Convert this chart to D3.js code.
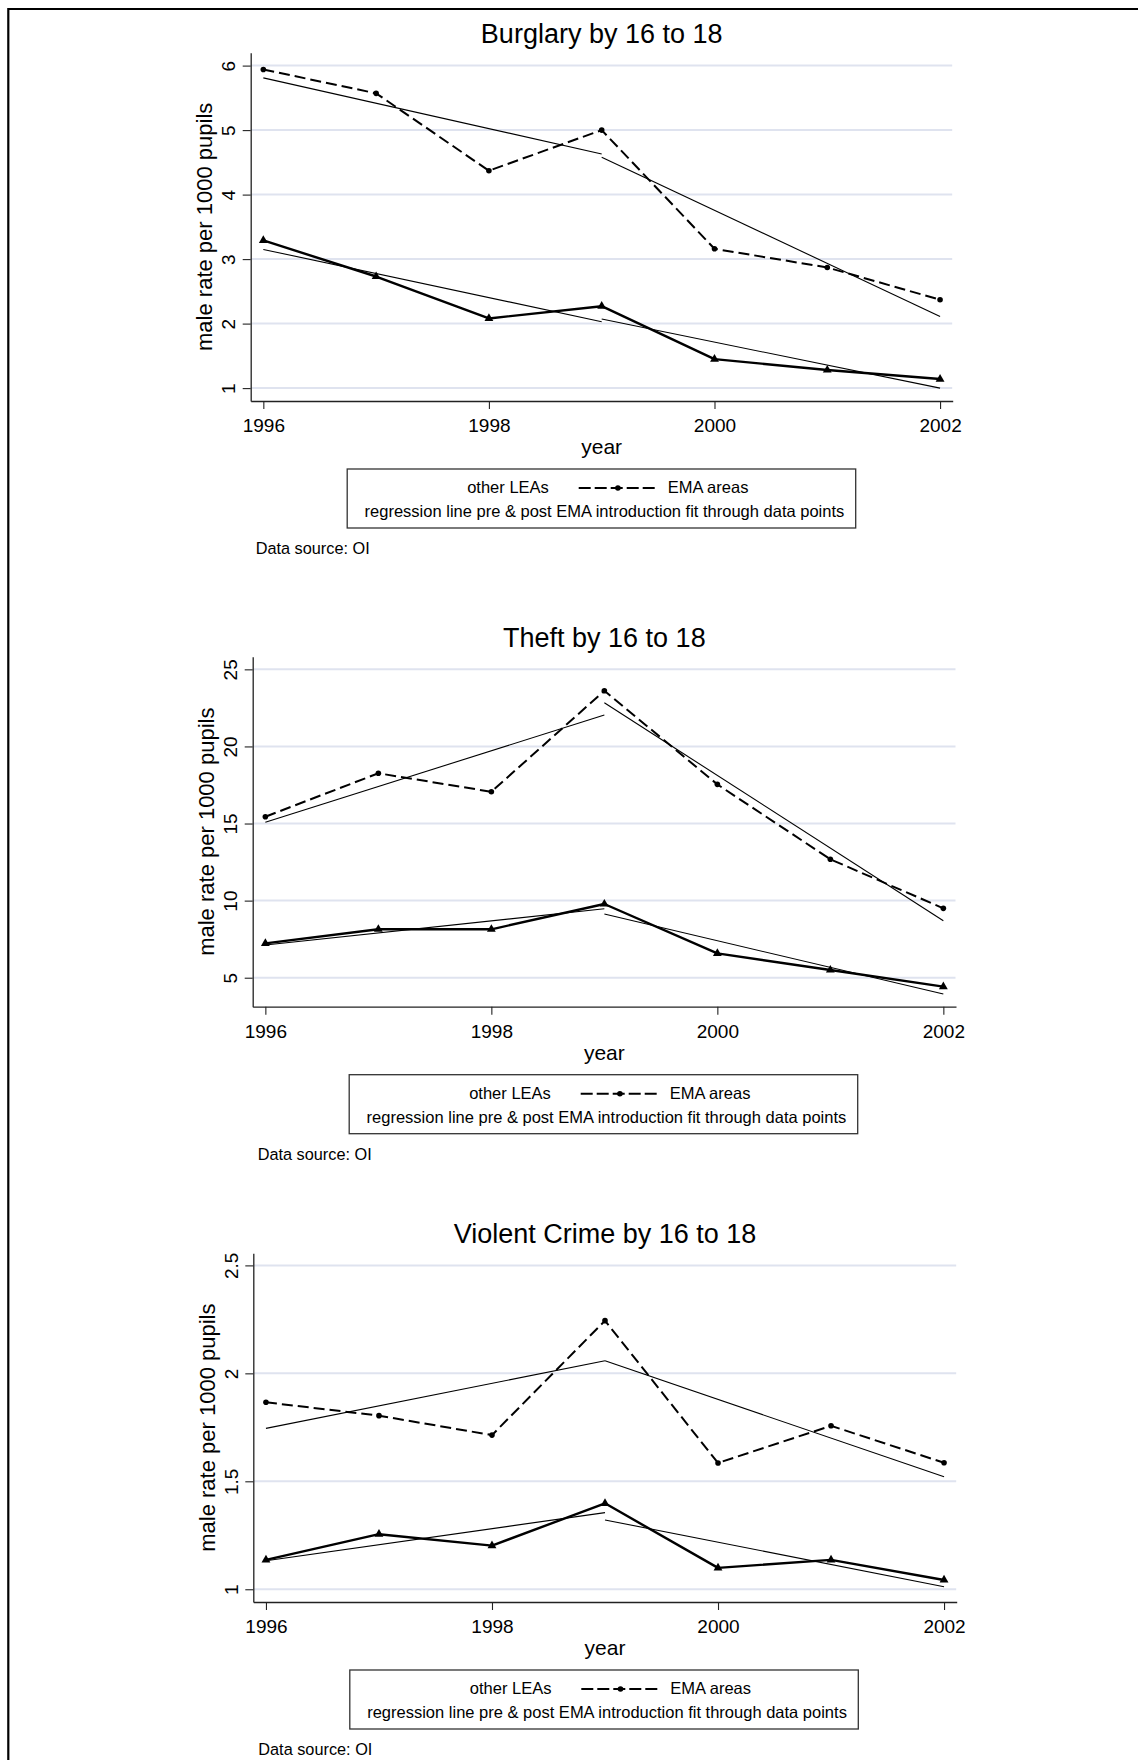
<!DOCTYPE html>
<html>
<head>
<meta charset="utf-8">
<script src="https://cdn.jsdelivr.net/npm/d3@7/dist/d3.min.js"></script>
<style>
  html, body { margin: 0; padding: 0; background: #fff; }
  svg { display: block; }
  text { font-family: "Liberation Sans", Arial, Helvetica, sans-serif; fill: #000; }
</style>
</head>
<body>
<script>
// ---------------- DATA ----------------
const years = [1996, 1997, 1998, 1999, 2000, 2001, 2002];
const xTickYears = [1996, 1998, 2000, 2002];
const fitPreYears = [1996, 1999];
const fitPostYears = [1999, 2002];

const titles = ["Burglary by 16 to 18", "Theft by 16 to 18", "Violent Crime by 16 to 18"];
const yTitle = "male rate per 1000 pupils";
const xTitle = "year";
const legendOther = "other LEAs";
const legendEMA = "EMA areas";
const legendFit = "regression line pre & post EMA introduction fit through data points";
const sourceNote = "Data source: OI";

// Burglary
const burglaryEMA   = [5.94, 5.57, 4.37, 5.00, 3.16, 2.87, 2.37];
const burglaryOther = [3.29, 2.73, 2.08, 2.27, 1.45, 1.28, 1.14];
const burglaryFitEMAPre    = [5.81, 4.63];
const burglaryFitEMAPost   = [4.58, 2.11];
const burglaryFitOtherPre  = [3.15, 2.03];
const burglaryFitOtherPost = [2.07, 1.00];
const burglaryTicks = [1, 2, 3, 4, 5, 6];

// Theft
const theftEMA   = [15.44, 18.26, 17.06, 23.61, 17.54, 12.68, 9.50];
const theftOther = [7.23, 8.14, 8.14, 9.78, 6.58, 5.50, 4.42];
const theftFitEMAPre    = [15.08, 22.04];
const theftFitEMAPost   = [22.83, 8.70];
const theftFitOtherPre  = [7.12, 9.47];
const theftFitOtherPost = [9.13, 3.94];
const theftTicks = [5, 10, 15, 20, 25];

// Violent crime
const violentEMA   = [1.866, 1.804, 1.714, 2.244, 1.585, 1.757, 1.586];
const violentOther = [1.136, 1.255, 1.202, 1.398, 1.099, 1.136, 1.043];
const violentFitEMAPre    = [1.745, 2.058];
const violentFitEMAPost   = [2.058, 1.521];
const violentFitOtherPre  = [1.132, 1.355];
const violentFitOtherPost = [1.321, 1.012];
const violentTicks = [1, 1.5, 2, 2.5];

// ---------------- LAYOUT ----------------
const W = 1138, H = 1760;
const xDomain = [1995.888, 2002.112];
const layout = [
  { left: 250.7, right: 952.7, top: 52.7,   bottom: 401,    yDomain: [0.8, 6.2] },
  { left: 252.7, right: 956,   top: 656.7,  bottom: 1006.7, yDomain: [3.12, 25.82] },
  { left: 253.3, right: 956.7, top: 1253.3, bottom: 1602,   yDomain: [0.941, 2.556] }
];
const panelData = [
  { ema: burglaryEMA, other: burglaryOther, fits: [burglaryFitEMAPre, burglaryFitEMAPost, burglaryFitOtherPre, burglaryFitOtherPost], ticks: burglaryTicks },
  { ema: theftEMA, other: theftOther, fits: [theftFitEMAPre, theftFitEMAPost, theftFitOtherPre, theftFitOtherPost], ticks: theftTicks },
  { ema: violentEMA, other: violentOther, fits: [violentFitEMAPre, violentFitEMAPost, violentFitOtherPre, violentFitOtherPost], ticks: violentTicks }
];

const svg = d3.select("body").append("svg").attr("width", W).attr("height", H);
svg.append("rect").attr("width", W).attr("height", H).attr("fill", "#fff");

// page border (left and top)
svg.append("path").attr("d", `M8.3,${H} L8.3,9 L${W},9`)
  .attr("fill", "none").attr("stroke", "#000").attr("stroke-width", 2.2);

const AXIS = "#222";
const GRID = "#dfe3ef";

layout.forEach((L, i) => {
  const D = panelData[i];
  const g = svg.append("g");
  const x = d3.scaleLinear().domain(xDomain).range([L.left, L.right]);
  const y = d3.scaleLinear().domain(L.yDomain).range([L.bottom, L.top]);
  const cx = (L.left + L.right) / 2;

  // gridlines
  g.append("g").selectAll("line").data(D.ticks).join("line")
    .attr("x1", L.left).attr("x2", L.right - 0.5)
    .attr("y1", d => y(d)).attr("y2", d => y(d))
    .attr("stroke", GRID).attr("stroke-width", 2);

  // title
  g.append("text").attr("x", cx).attr("y", L.top - 10)
    .attr("text-anchor", "middle").attr("font-size", 27).text(titles[i]);

  // y axis
  const yAxis = g.append("g").attr("transform", `translate(${L.left},0)`)
    .call(d3.axisLeft(y).tickValues(D.ticks).tickSize(8).tickSizeOuter(0)
      .tickFormat(d3.format("~g")));
  yAxis.select(".domain").attr("stroke", AXIS).attr("stroke-width", 1.3);
  yAxis.selectAll(".tick line").attr("stroke", AXIS).attr("stroke-width", 1.1);
  yAxis.selectAll(".tick text")
    .attr("transform", "rotate(-90)")
    .attr("x", 0).attr("y", -15.5).attr("dy", null)
    .attr("text-anchor", "middle")
    .attr("font-size", 19).attr("font-family", "Liberation Sans, Arial, sans-serif")
    .attr("fill", "#000");

  // x axis
  const xAxis = g.append("g").attr("transform", `translate(0,${L.bottom})`)
    .call(d3.axisBottom(x).tickValues(xTickYears).tickSize(8).tickSizeOuter(0)
      .tickFormat(d3.format("d")));
  xAxis.select(".domain").attr("stroke", AXIS).attr("stroke-width", 1.3);
  xAxis.selectAll(".tick line").attr("stroke", AXIS).attr("stroke-width", 1.1);
  xAxis.selectAll(".tick text")
    .attr("y", 31).attr("dy", null)
    .attr("font-size", 19).attr("font-family", "Liberation Sans, Arial, sans-serif")
    .attr("fill", "#000");

  // axis titles
  g.append("text")
    .attr("transform", `translate(${L.left - 38.5},${(L.top + L.bottom) / 2}) rotate(-90)`)
    .attr("text-anchor", "middle").attr("font-size", 22).text(yTitle);
  g.append("text").attr("x", cx).attr("y", L.bottom + 53)
    .attr("text-anchor", "middle").attr("font-size", 21).text(xTitle);

  // regression lines
  const fitLine = d3.line().x(d => x(d[0])).y(d => y(d[1]));
  const fitSets = [
    [fitPreYears, D.fits[0]], [fitPostYears, D.fits[1]],
    [fitPreYears, D.fits[2]], [fitPostYears, D.fits[3]]
  ];
  fitSets.forEach(([yrs, vals]) => {
    g.append("path").datum(d3.zip(yrs, vals)).attr("d", fitLine)
      .attr("fill", "none").attr("stroke", "#000").attr("stroke-width", 1.1);
  });

  const line = d3.line().x((d, j) => x(years[j])).y(d => y(d));

  // other LEAs (solid, triangles)
  g.append("path").datum(D.other).attr("d", line)
    .attr("fill", "none").attr("stroke", "#000").attr("stroke-width", 2.4)
    .attr("stroke-linejoin", "round");
  g.append("g").selectAll("path").data(D.other).join("path")
    .attr("d", d3.symbol().type(d3.symbolTriangle).size(34))
    .attr("transform", (d, j) => `translate(${x(years[j])},${y(d)})`)
    .attr("fill", "#000");

  // EMA areas (dashed, dots)
  g.append("path").datum(D.ema).attr("d", line)
    .attr("fill", "none").attr("stroke", "#000").attr("stroke-width", 2)
    .attr("stroke-dasharray", "11,5");
  g.append("g").selectAll("circle").data(D.ema).join("circle")
    .attr("cx", (d, j) => x(years[j])).attr("cy", d => y(d)).attr("r", 2.8)
    .attr("fill", "#000");

  // legend
  const lx = L.left + 96.5, ly = L.bottom + 68, lw = 508.5, lh = 59;
  g.append("rect").attr("x", lx).attr("y", ly).attr("width", lw).attr("height", lh)
    .attr("fill", "#fff").attr("stroke", "#333").attr("stroke-width", 1.3);
  g.append("text").attr("x", lx + 120).attr("y", ly + 24)
    .attr("font-size", 16.5).text(legendOther);
  g.append("line").attr("x1", lx + 231.5).attr("x2", lx + 308.5)
    .attr("y1", ly + 19).attr("y2", ly + 19)
    .attr("stroke", "#000").attr("stroke-width", 2).attr("stroke-dasharray", "12,4");
  g.append("circle").attr("cx", lx + 270.7).attr("cy", ly + 19).attr("r", 2.8).attr("fill", "#000");
  g.append("text").attr("x", lx + 320.5).attr("y", ly + 24)
    .attr("font-size", 16.5).text(legendEMA);
  g.append("text").attr("x", lx + lw / 2 + 3).attr("y", ly + 48)
    .attr("text-anchor", "middle").attr("font-size", 16.5).text(legendFit);

  // source note
  g.append("text").attr("x", L.left + 5).attr("y", ly + 85)
    .attr("font-size", 16.3).text(sourceNote);
});
</script>
</body>
</html>
